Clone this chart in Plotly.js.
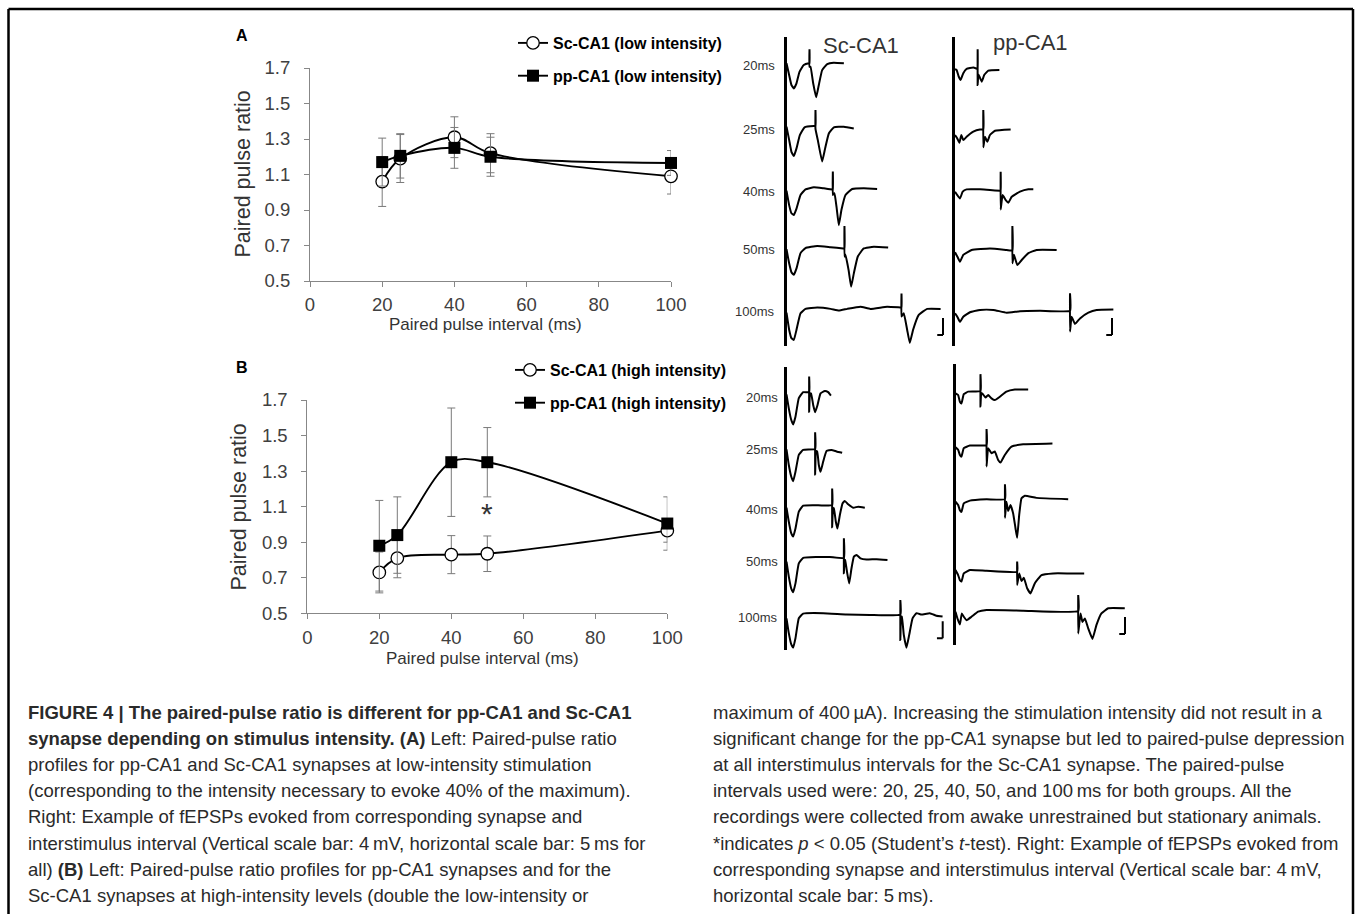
<!DOCTYPE html>
<html><head><meta charset="utf-8">
<script src="https://cdn.plot.ly/plotly-3.0.1.min.js"></script>
<style>html,body{margin:0;padding:0;background:#fff}#chart{width:1355px;height:914px}</style>
</head><body><div id="chart"></div>
<script>
// ---------------- data ----------------
const intervals = [20, 25, 40, 50, 100];
const xTicks = [0, 20, 40, 60, 80, 100];
const yTicks = [0.5, 0.7, 0.9, 1.1, 1.3, 1.5, 1.7];

const scLow     = [1.06, 1.19, 1.31, 1.22, 1.09];
const scLowErr  = [0.14, 0.135, 0.115, 0.11, 0.10];
const ppLow     = [1.17, 1.205, 1.25, 1.20, 1.165];
const ppLowErr  = [0.135, 0.125, 0.115, 0.11, 0.07];

const scHigh    = [0.73, 0.81, 0.83, 0.835, 0.965];
const scHighErr = [0.115, 0.11, 0.107, 0.10, 0.065];
const ppHigh    = [0.88, 0.94, 1.35, 1.35, 1.005];
const ppHighErr = [0.255, 0.215, 0.305, 0.195, 0.15];

const rowLabels = ['20ms', '25ms', '40ms', '50ms', '100ms'];

// example fEPSP traces: [time (ms), potential (mV)]
const aSc20 = [[0,0],[2,-2.4],[4.3,-5.1],[6.4,-5.9],[8.7,-4.7],[11.3,-2],[15,-0.4],[19.4,0],[20,0],[20,3.3],[20,-0.8],[20.9,-0.8],[23.2,-4.7],[25.8,-8],[28.1,-5.1],[31,-1.6],[35.4,-0.2],[41,0.15],[49.9,0]];
const aSc25 = [[0,0],[2.3,-3.1],[4.3,-5.9],[6.4,-6.9],[8.7,-5.1],[11.6,-2],[15.7,-0.15],[23.8,0.15],[25.2,0.15],[25.2,3.9],[25.2,-0.5],[27.2,-3.1],[31,-8.2],[33.6,-5.1],[36.8,-1.6],[41.2,-0.15],[49.9,0],[58.5,-0.4]];
const aSc40 = [[0,0],[2.3,-3.4],[4.3,-5.3],[6.4,-5.7],[8.7,-4.2],[12.2,-1],[16.5,0.3],[23.8,0.8],[32.5,0.55],[39.7,0.3],[40.3,0.3],[40.3,4.5],[40.3,-1],[41.7,-0.6],[43.5,-3.8],[45.5,-8.1],[47.8,-4.5],[51.3,-1],[57.1,0.4],[67.2,0.55],[78.8,0.4]];
const aSc50 = [[0,0],[2.3,-3.3],[4.3,-5.4],[6.4,-6],[8.7,-4.5],[12.2,-0.9],[16.5,0.3],[26.7,0.8],[38.3,0.5],[49.3,0.2],[50.4,0.2],[50.4,5.5],[50.4,-1.7],[51.2,-1.2],[54,-4.9],[56.2,-8.8],[58.6,-5.6],[62,-1.7],[67.2,0.2],[75.9,0.6],[88.4,0.4]];
const aSc100 = [[0,0],[2.3,-4],[4.3,-6],[6.4,-6.4],[8.7,-4],[12.2,-0.15],[16.5,0.9],[26.7,1.2],[38.3,0.9],[45.5,0.5],[52.8,0.9],[64.3,1.4],[73,0.9],[87.5,1.4],[99.1,1.25],[100,1.25],[100,4.5],[100,-0.9],[102,-0.15],[104.9,-4],[107.2,-7.1],[110.1,-4],[115,-0.5],[122.3,0.9],[134,0.9]];

const aPp20 = [[0,0],[1.4,-0.15],[3.2,-1.7],[4.9,-2.5],[7.2,-0.9],[10.1,0.1],[15.9,0.4],[19.4,0.1],[19.7,0.1],[19.7,4.7],[19.7,-3.7],[20.3,-1.2],[21.2,-1.7],[23.2,-2.9],[25.5,-1.3],[29,-0.3],[38.6,-0.15]];
const aPp25 = [[0,0],[2,-0.8],[3.8,-1.8],[5.5,0],[7.2,-1.2],[10.1,-0.4],[15.9,0.8],[21.7,1.3],[24.6,1.3],[24.6,5.9],[24.6,-2.9],[26.1,-0.4],[28.1,-1.6],[30.4,0],[34.8,1.0],[48.4,1.3]];
const aPp40 = [[0,0],[2,-0.8],[4.3,-1.6],[6.7,0],[10.1,0.55],[21.7,0.55],[30.4,0.4],[39.1,0.2],[39.7,0.2],[39.7,4.7],[39.7,-4.2],[41.4,-0.8],[44.1,-2],[46.4,-2.6],[49.3,-1.2],[56.5,0],[63.8,0.55],[68.1,0.55]];
const aPp50 = [[0,0],[2,-1],[4.3,-2.2],[7.2,-0.6],[14.5,0.55],[30.4,0.9],[44.9,0.55],[49.9,0.4],[49.9,6.2],[49.9,-2.6],[51.3,-0.6],[54.2,-3],[58,-1.8],[63.8,-0.2],[71,0.55],[88.4,0.55]];
const aPp100 = [[0,0],[2,-0.8],[4.3,-2],[7.2,-0.8],[13,0.25],[21.7,0.8],[33.3,0.8],[44.9,0.15],[56.5,0.5],[73.9,0.6],[100,0.6],[100,4.7],[100,-4.3],[101.4,-0.8],[104.3,-2.5],[108.7,-1.2],[116,0.15],[123.2,0.8],[137.7,0.9]];

const bSc20 = [[0,0],[2,-3.3],[4.1,-6],[5.8,-7.1],[7.8,-5.3],[10.7,-0.9],[14.5,0.5],[19.7,0.5],[19.7,4.2],[19.7,-4.1],[20.5,0.2],[21.4,0.2],[23.2,-2.5],[24.9,-4.2],[27,-2.5],[29.6,0.2],[33.3,0.8],[36.2,0.5],[38.6,-0.3]];
const bSc25 = [[0,0],[2,-3.7],[4.1,-6.4],[5.8,-7.5],[7.8,-5.3],[10.7,-1.3],[14.5,-0.15],[24.9,0.1],[24.9,4],[24.9,-5.9],[25.7,-0.5],[26.7,-0.5],[28.1,-3.7],[29.6,-5.3],[31.9,-2.9],[34.8,-0.4],[39.1,-0.15],[43.5,-0.5],[48.4,-0.8]];
const bSc40 = [[0,0],[2,-3.3],[4.1,-6],[5.8,-6.8],[7.8,-4.9],[10.7,-0.9],[14.5,0.5],[23.2,0.6],[31.9,0.5],[39.7,0.6],[39.7,4.5],[39.7,-4.6],[40.5,-0.15],[41.2,-0.15],[42.9,-3.3],[44.3,-4.9],[46.4,-1.7],[48.7,1],[50.7,1.6],[53.6,0.8],[58,0],[62.3,0.25],[68.1,0]];
const bSc50 = [[0,0],[2,-3.5],[4.1,-6.3],[5.8,-7.2],[7.8,-5.1],[10.7,-0.4],[14.5,0.9],[26.1,1.1],[37.7,1.1],[49.9,0.9],[49.9,5.5],[49.9,-2.7],[50.6,0.4],[51,0.4],[52.8,-2.7],[54.5,-5.1],[56.5,-1.6],[58.6,1.2],[60.9,1.6],[64.3,0.8],[69.6,0.5],[78.3,0.6],[87.8,0.4]];
const bSc100 = [[0,0],[2,-3.5],[4.1,-6.1],[5.8,-6.9],[7.8,-4.7],[10.7,0],[14.5,1.1],[31.9,1.2],[52.2,0.9],[72.5,0.8],[99,0.9],[99,4.3],[99,-5.1],[99.7,0.4],[100.3,0.4],[102,-3.9],[104.3,-6.9],[106.7,-3.9],[109.6,0],[113,1.2],[117.4,0.9],[124.6,1.2],[130.4,0.6],[135.7,0.4]];

const bPp20 = [[0,0],[2.3,-0.4],[3.8,-2],[5.2,-2.4],[7.2,-0.2],[11,0.4],[21.7,0.55],[21.7,4.5],[21.7,-3.1],[22.4,0],[23.2,0],[26.1,-1],[28.4,-0.4],[31.3,-1.2],[34.2,-1.6],[38.6,-0.8],[44.3,0.4],[51.6,0.9],[63.2,0.9]];
const bPp25 = [[0,0],[2.3,-0.6],[3.8,-1.8],[5.2,-2.2],[7.2,-0.2],[12.5,0.4],[27,0.55],[27,4.3],[27,-4.5],[28.4,-0.2],[31.3,-1.4],[34.2,-1],[37.1,-3],[39.1,-3.6],[42.9,-1.8],[48.7,0.15],[58.8,0.7],[84.3,0.9]];
const bPp40 = [[0,0],[2.3,-0.8],[3.8,-2],[5.2,-2.4],[7.2,-0.4],[12.5,0.25],[27,0.55],[43,0.6],[43,4.1],[43,-3.8],[44.3,0],[45.8,-2.2],[47.8,-0.8],[50.1,-2.7],[52.2,-6.3],[53.6,-8.5],[55.4,-3.1],[57.4,0.8],[60.3,1.4],[70.4,0.9],[98,0.6]];
const bPp50 = [[0,0],[2.3,-1.2],[3.8,-2.4],[5.2,-2.7],[7.2,-0.8],[12.5,0],[27,-0.2],[53.6,-0.4],[53.6,2],[53.6,-3.5],[55.4,-0.8],[57.4,-2.6],[59.4,-1.8],[62.3,-4.3],[65.2,-5.5],[69,-3.1],[74.8,-1.2],[84.9,-0.8],[99.4,-0.8],[111.9,-0.8]];
const bPp100 = [[0,0],[1.7,-1.6],[3.8,-3],[5.5,-0.4],[7.2,-1.2],[9.6,-2],[13.9,-1.2],[19.7,0],[27,0.4],[58.8,0.25],[106.7,0.15],[106.7,3.9],[106.7,-5.1],[108.7,-0.4],[110.4,-2.4],[112.5,-1.6],[115.4,-3.9],[119.1,-6.4],[122.6,-3.1],[126.9,-0.4],[132.8,0.8],[147.2,0.8]];

const captionLeft = [
  '<b>FIGURE 4 | The paired-pulse ratio is different for pp-CA1 and Sc-CA1</b>',
  '<b>synapse depending on stimulus intensity. (A)</b> Left: Paired-pulse ratio',
  'profiles for pp-CA1 and Sc-CA1 synapses at low-intensity stimulation',
  '(corresponding to the intensity necessary to evoke 40% of the maximum).',
  'Right: Example of fEPSPs evoked from corresponding synapse and',
  'interstimulus interval (Vertical scale bar: 4\u2009mV, horizontal scale bar: 5\u2009ms for',
  'all) <b>(B)</b> Left: Paired-pulse ratio profiles for pp-CA1 synapses and for the',
  'Sc-CA1 synapses at high-intensity levels (double the low-intensity or'
];
const captionRight = [
  'maximum of 400\u2009\u00b5A). Increasing the stimulation intensity did not result in a',
  'significant change for the pp-CA1 synapse but led to paired-pulse depression',
  'at all interstimulus intervals for the Sc-CA1 synapse. The paired-pulse',
  'intervals used were: 20, 25, 40, 50, and 100\u2009ms for both groups. All the',
  'recordings were collected from awake unrestrained but stationary animals.',
  '*indicates <i>p</i> &lt; 0.05 (Student\u2019s <i>t</i>-test). Right: Example of fEPSPs evoked from',
  'corresponding synapse and interstimulus interval (Vertical scale bar: 4\u2009mV,',
  'horizontal scale bar: 5\u2009ms).'
];

// ---------------- layout helpers ----------------
const W = 1355, H = 914;
const fx = x => x / W;
const fy = y => 1 - y / H;
const MS_PX = 1.15, MV_PX = 4.25;
const FONT = '"Liberation Sans", Arial, Helvetica, sans-serif';
const TICK_COLOR = '#404040';
const AXIS_COLOR = '#878787';

const data = [];
const shapes = [];
const annotations = [];
const layout = {
  width: W, height: H,
  margin: {l: 0, r: 0, t: 0, b: 0},
  paper_bgcolor: '#fff', plot_bgcolor: 'rgba(0,0,0,0)',
  showlegend: true,
  font: {family: FONT, color: '#000'},
  shapes, annotations
};

// main plots
function mainAxes(n, xl, xr, yt, yb) {
  const sx = n === 1 ? '' : String(n);
  layout['xaxis' + sx] = {
    domain: [fx(xl), fx(xr)], range: [0, 100], anchor: 'y' + sx,
    tickvals: xTicks, ticks: 'outside', ticklen: 5, tickcolor: AXIS_COLOR, tickwidth: 1,
    showline: true, linecolor: AXIS_COLOR, linewidth: 1, showgrid: false, zeroline: false,
    tickfont: {family: FONT, size: 18.5, color: TICK_COLOR}, ticklabelstandoff: 2, fixedrange: true
  };
  layout['yaxis' + sx] = {
    domain: [fy(yb), fy(yt)], range: [0.5, 1.7], anchor: 'x' + sx,
    tickvals: yTicks, tickformat: '.1f', ticks: 'outside', ticklen: 5, tickcolor: AXIS_COLOR, tickwidth: 1,
    showline: true, linecolor: AXIS_COLOR, linewidth: 1, showgrid: false, zeroline: false,
    tickfont: {family: FONT, size: 18.5, color: TICK_COLOR}, ticklabelstandoff: 10, fixedrange: true
  };
}
mainAxes(1, 310, 671, 68, 281);
mainAxes(2, 307.3, 667.3, 400, 613.3);

function series(n, y, err, name, open, legend, group) {
  const sx = n === 1 ? '' : String(n);
  data.push({
    type: 'scatter', mode: 'lines+markers', x: intervals, y: y,
    xaxis: 'x' + sx, yaxis: 'y' + sx, name: '<b>' + name + '</b>',
    legend: legend, legendgroup: group, cliponaxis: false, hoverinfo: 'skip',
    line: {color: '#000', width: 1.9, shape: 'spline', smoothing: 1},
    marker: open ? {symbol: 'circle', size: 12.5, color: '#fff', line: {color: '#000', width: 1.3}}
                 : {symbol: 'square', size: 12, color: '#000', line: {color: '#000', width: 0}},
    error_y: {type: 'data', array: err, visible: true, color: '#7a7a7a', thickness: 1, width: 4}
  });
}
series(1, scLow, scLowErr, 'Sc-CA1 (low intensity)', true, 'legend', 'a1');
series(1, ppLow, ppLowErr, 'pp-CA1 (low intensity)', false, 'legend', 'a2');
series(2, scHigh, scHighErr, 'Sc-CA1 (high intensity)', true, 'legend2', 'b1');
series(2, ppHigh, ppHighErr, 'pp-CA1 (high intensity)', false, 'legend2', 'b2');

const legendStyle = {
  xanchor: 'left', yanchor: 'top', bgcolor: 'rgba(0,0,0,0)', borderwidth: 0,
  font: {family: FONT, size: 16, color: '#000'}, traceorder: 'grouped', tracegroupgap: 9, itemwidth: 30
};
layout.legend = Object.assign({x: fx(513), y: fy(26)}, legendStyle);
layout.legend2 = Object.assign({x: fx(510), y: fy(353)}, legendStyle);

// axis titles, panel labels, asterisk
function ann(o) {
  annotations.push(Object.assign({xref: 'paper', yref: 'paper', showarrow: false, xanchor: 'center', yanchor: 'middle'}, o));
}
ann({x: fx(242), y: fy(174.5), text: 'Paired pulse ratio', textangle: -90, font: {family: FONT, size: 21.5, color: '#333'}});
ann({x: fx(238.5), y: fy(507), text: 'Paired pulse ratio', textangle: -90, font: {family: FONT, size: 21.5, color: '#333'}});
ann({x: fx(485), y: fy(324), text: 'Paired pulse interval (ms)', font: {family: FONT, size: 17, color: '#333'}});
ann({x: fx(482), y: fy(658), text: 'Paired pulse interval (ms)', font: {family: FONT, size: 17, color: '#333'}});
ann({x: fx(242), y: fy(36), text: '<b>A</b>', font: {family: FONT, size: 16, color: '#000'}});
ann({x: fx(241.5), y: fy(367.5), text: '<b>B</b>', font: {family: FONT, size: 16, color: '#000'}});
annotations.push({xref: 'x2', yref: 'y2', x: 50, y: 1.08, yshift: -3, showarrow: false, text: '*',
  xanchor: 'center', yanchor: 'middle', font: {family: FONT, size: 30, color: '#333'}});

// trace columns
const columns = [
  {ax: 3, x0: 786.5, top: 37, bot: 346, rows: [63.3, 126.7, 190.7, 249.3, 312.7],
   traces: [aSc20, aSc25, aSc40, aSc50, aSc100], bar: [943, 335]},
  {ax: 4, x0: 955, top: 37, bot: 346, rows: [69.3, 135, 191.7, 252.3, 313.3],
   traces: [aPp20, aPp25, aPp40, aPp50, aPp100], bar: [1112, 335]},
  {ax: 5, x0: 786.5, top: 367, bot: 650, rows: [394.3, 449.3, 507.7, 561.7, 618.3],
   traces: [bSc20, bSc25, bSc40, bSc50, bSc100], bar: [942.7, 638.3]},
  {ax: 6, x0: 955.5, top: 364, bot: 645, rows: [393.3, 447.3, 501.7, 570, 611.7],
   traces: [bPp20, bPp25, bPp40, bPp50, bPp100], bar: [1125, 634]}
];
const WPX = 210;
columns.forEach(c => {
  const xs = 'x' + c.ax, ys = 'y' + c.ax;
  layout['xaxis' + c.ax] = {domain: [fx(c.x0), fx(c.x0 + WPX)], range: [0, WPX / MS_PX], anchor: ys,
    visible: false, fixedrange: true};
  layout['yaxis' + c.ax] = {domain: [fy(c.bot), fy(c.top)], range: [-(c.bot - c.top) / MV_PX, 0], anchor: xs,
    showline: true, linecolor: '#000', linewidth: 2.6, showticklabels: false, ticks: '',
    showgrid: false, zeroline: false, fixedrange: true};
  c.traces.forEach((tr, i) => {
    const off = -(c.rows[i] - c.top) / MV_PX;
    data.push({type: 'scatter', mode: 'lines', xaxis: xs, yaxis: ys, showlegend: false, hoverinfo: 'skip',
      x: tr.map(p => p[0]), y: tr.map(p => p[1] + off),
      line: {color: '#000', width: 2, shape: 'spline', smoothing: 0.35, simplify: false}});
  });
  // scale bar: 4 mV vertical, 5 ms horizontal
  const tb = (c.bar[0] - c.x0) / MS_PX, vb = -(c.bar[1] - c.top) / MV_PX;
  shapes.push({type: 'line', xref: xs, yref: ys, x0: tb, x1: tb, y0: vb, y1: vb + 4, line: {color: '#000', width: 2}});
  shapes.push({type: 'line', xref: xs, yref: ys, x0: tb - 5, x1: tb, y0: vb, y1: vb, line: {color: '#000', width: 2}});
});

// row labels & column titles
const rowLabelY_A = [65.7, 130, 192, 250, 312];
const rowLabelY_B = [397, 449, 509, 561, 617];
rowLabels.forEach((t, i) => {
  ann({x: fx(777), y: fy(rowLabelY_A[i]), xanchor: 'right', text: t, font: {family: FONT, size: 13, color: '#333'}});
  ann({x: fx(780), y: fy(rowLabelY_B[i]), xanchor: 'right', text: t, font: {family: FONT, size: 13, color: '#333'}});
});
ann({x: fx(861), y: fy(45), text: 'Sc-CA1', font: {family: FONT, size: 22, color: '#333'}});
ann({x: fx(1030), y: fy(43), text: 'pp-CA1', font: {family: FONT, size: 22, color: '#333'}});

// caption
const CAP_TOP = 712, CAP_STEP = 26.2;
captionLeft.forEach((t, i) => ann({x: fx(26), y: fy(CAP_TOP + i * CAP_STEP), xanchor: 'left', yanchor: 'middle',
  text: t, font: {family: FONT, size: 18.5, color: '#2a2a2a'}}));
captionRight.forEach((t, i) => ann({x: fx(711), y: fy(CAP_TOP + i * CAP_STEP), xanchor: 'left', yanchor: 'middle',
  text: t, font: {family: FONT, size: 18.5, color: '#2a2a2a'}}));

// frame
const frame = {color: '#000', width: 2.5};
shapes.push({type: 'line', xref: 'paper', yref: 'paper', x0: fx(8.5), x1: fx(1353), y0: fy(9), y1: fy(9), line: frame});
shapes.push({type: 'line', xref: 'paper', yref: 'paper', x0: fx(8.5), x1: fx(8.5), y0: fy(9), y1: 0, line: frame});
shapes.push({type: 'line', xref: 'paper', yref: 'paper', x0: fx(1353), x1: fx(1353), y0: fy(9), y1: 0, line: frame});

Plotly.newPlot('chart', data, layout, {staticPlot: true, displayModeBar: false});
</script></body></html>
